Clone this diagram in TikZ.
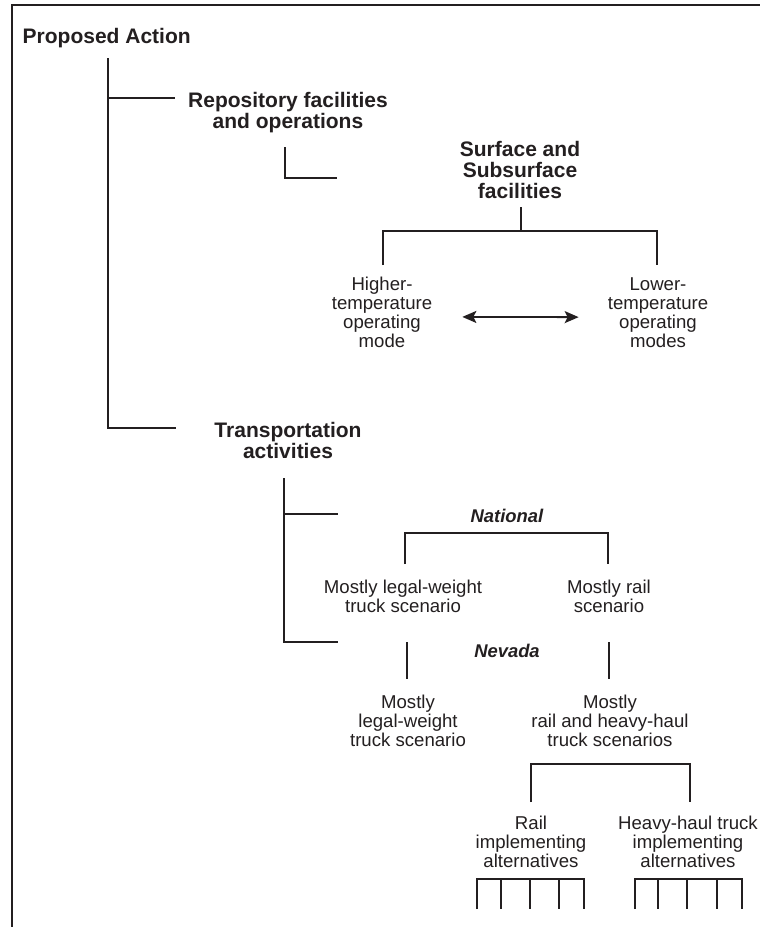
\documentclass[tikz,border=0pt]{standalone}
\usepackage{fontspec}
\setmainfont{Liberation Sans}
\usepackage{xcolor}
\usetikzlibrary{arrows.meta}
\definecolor{tsink}{HTML}{231F20}
\tikzset{
  head/.style={anchor=base,align=center,inner sep=0pt,text=tsink,
    font=\bfseries\fontsize{21}{21}\selectfont},
  item/.style={anchor=base,align=center,inner sep=0pt,text=tsink,
    font=\fontsize{18.6}{18.8}\selectfont},
  region/.style={anchor=base,inner sep=0pt,text=tsink,
    font=\bfseries\itshape\fontsize{18.4}{20}\selectfont},
  tree/.style={draw=tsink,line width=2.3pt},
  dbl/.style={draw=tsink,line width=1.8pt,
    {Stealth[length=14pt,width=12pt,inset=3pt]}-{Stealth[length=14pt,width=12pt,inset=3pt]}},
}
% open bracket: left tip, right tip, bar height
\newcommand{\bracket}[3]{%
  \draw[tree] (#1) -- (#1 |- 0,#3) -- (#2 |- 0,#3) -- (#2);
}
% comb of five teeth below an alternatives node
\newcommand{\comb}[3]{%
  \draw[tree] (#1,909) -- (#1,879) -- (#2,879) -- (#2,909);
  \foreach \cx in {#3} \draw[tree] (\cx,879) -- (\cx,909);
}

\begin{document}
\begin{tikzpicture}[x=1pt,y=-1pt,line join=miter]
\useasboundingbox (0,0) rectangle (760,927);
\fill[white] (0,0) rectangle (760,927);
\draw[draw=tsink,line width=2.4pt] (12,927) -- (12,5) -- (760,5);

% Proposed action and its two parts (nodes sit on their last baseline).
\node[head,anchor=base west] (act) at (22.5,43) {Proposed Action};
\node[head] (rep) at (288,128) {Repository facilities\\and operations};
\node[head] (trn) at (288,458) {Transportation\\activities};
\coordinate (trunk) at (108,58);
\coordinate (repEnd) at (175,98);
\coordinate (trnEnd) at (176,428);
\draw[tree] (trunk) |- (trnEnd);
\draw[tree] (trunk |- repEnd) -- (repEnd);

% Repository facilities.
\coordinate (repL) at (285,147);
\coordinate (repEndB) at (337,178);
\draw[tree] (repL) |- (repEndB);
\node[head] (ssf) at (520,198) {Surface and\\Subsurface\\facilities};
\coordinate (ssfStem) at (521,207);
\draw[tree] (ssfStem) -- (ssfStem |- 0,231);
\node[item] (hi) at (382,347) {Higher-\\temperature\\operating\\mode};
\node[item] (lo) at (658,347) {Lower-\\temperature\\operating\\modes};
\coordinate (hiTop) at (383,265);
\coordinate (loTop) at (657,265);
\bracket{hiTop}{loTop}{231}
\draw[dbl,shorten <=30pt,shorten >=29pt] ([yshift=-4.7pt]hi.east) -- ([yshift=-4.7pt]lo.west);

% Transportation activities.
\coordinate (trnL) at (284,478);
\coordinate (natEnd) at (338,514);
\coordinate (nevEnd) at (338,642);
\draw[tree] (trnL) |- (nevEnd);
\draw[tree] (trnL |- natEnd) -- (natEnd);

\node[region] (nat) at (507,522) {National};
\node[item] (natT) at (403,612) {Mostly legal-weight\\truck scenario};
\node[item] (natR) at (609,612) {Mostly rail\\scenario};
\coordinate (natTTop) at (405,564);
\coordinate (natRTop) at (608,564);
\bracket{natTTop}{natRTop}{533}

\node[region] (nev) at (507,657) {Nevada};
\coordinate (nevTTop) at (407,642);
\coordinate (nevRTop) at (609,642);
\draw[tree] (nevTTop) -- ++(0,37);
\draw[tree] (nevRTop) -- ++(0,37);
\node[item] (nevT) at (408,746) {Mostly\\legal-weight\\truck scenario};
\node[item] (nevR) at (610,746) {Mostly\\rail and heavy-haul\\truck scenarios};

\node[item] (rail) at (531,867) {Rail\\implementing\\alternatives};
\node[item] (hh) at (688,867) {Heavy-haul truck\\implementing\\alternatives};
\coordinate (railTop) at (531,802);
\coordinate (hhTop) at (690,802);
\bracket{railTop}{hhTop}{764}
\comb{477}{584}{501,530,559}
\comb{635}{742}{658,687,717}

\end{tikzpicture}
\end{document}
